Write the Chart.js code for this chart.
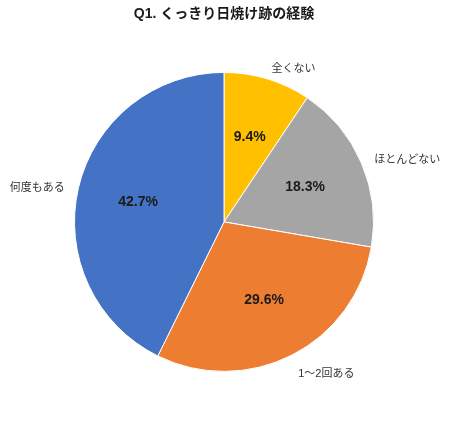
<!DOCTYPE html>
<html>
<head>
<meta charset="utf-8">
<script src="https://cdn.jsdelivr.net/npm/chart.js@4.4.1/dist/chart.umd.min.js"></script>
<style>
  html, body { margin: 0; padding: 0; background: #fff; }
  #wrap { width: 450px; height: 423px; }
</style>
</head>
<body>
<div id="wrap"><canvas id="chart-pie"></canvas></div>
<script>
const categories = ["全くない", "ほとんどない", "1〜2回ある", "何度もある"];
const shares = [9.4, 18.3, 29.6, 42.7];
const colors = ["#FFC000", "#A5A5A5", "#ED7D31", "#4472C4"];

const FONT = "'Liberation Sans', 'Noto Sans CJK JP', sans-serif";

// draw category names outside and percentages inside each slice
const sliceLabels = {
  id: "sliceLabels",
  afterDatasetsDraw(chart) {
    const ctx = chart.ctx;
    const meta = chart.getDatasetMeta(0);
    meta.data.forEach((arc, i) => {
      const mid = (arc.startAngle + arc.endAngle) / 2;
      const r = arc.outerRadius;
      const cos = Math.cos(mid);
      const sin = Math.sin(mid);

      // value inside
      ctx.save();
      ctx.font = "bold 14px " + FONT;
      ctx.fillStyle = "#1a1a1a";
      ctx.textAlign = "center";
      ctx.textBaseline = "middle";
      ctx.fillText(shares[i].toFixed(1) + "%", arc.x + cos * r * 0.59, arc.y + sin * r * 0.59);

      // name outside
      ctx.font = "11px " + FONT;
      ctx.fillStyle = "#333";
      const ox = arc.x + cos * (r + 14);
      const oy = arc.y + sin * (r + 14) + 3 + Math.max(0, sin) * 4;
      ctx.textAlign = cos >= 0 ? "left" : "right";
      ctx.fillText(categories[i], ox, oy);
      ctx.restore();
    });
  },
};

const ctx = document.getElementById("chart-pie").getContext("2d");
new Chart(ctx, {
  type: "pie",
  data: {
    labels: categories,
    datasets: [
      {
        data: shares,
        backgroundColor: colors,
        borderColor: "#fff",
        borderWidth: 1,
      },
    ],
  },
  options: {
    responsive: true,
    maintainAspectRatio: false,
    animation: false,
    layout: { padding: { top: 0, bottom: 51, left: 74, right: 76 } },
    plugins: {
      legend: { display: false },
      tooltip: { enabled: false },
      title: {
        display: true,
        text: "Q1. くっきり日焼け跡の経験",
        color: "#1a1a1a",
        font: { family: FONT, size: 14, weight: "bold" },
        padding: { top: 6, bottom: 49 },
      },
    },
  },
  plugins: [sliceLabels],
});
</script>
</body>
</html>
